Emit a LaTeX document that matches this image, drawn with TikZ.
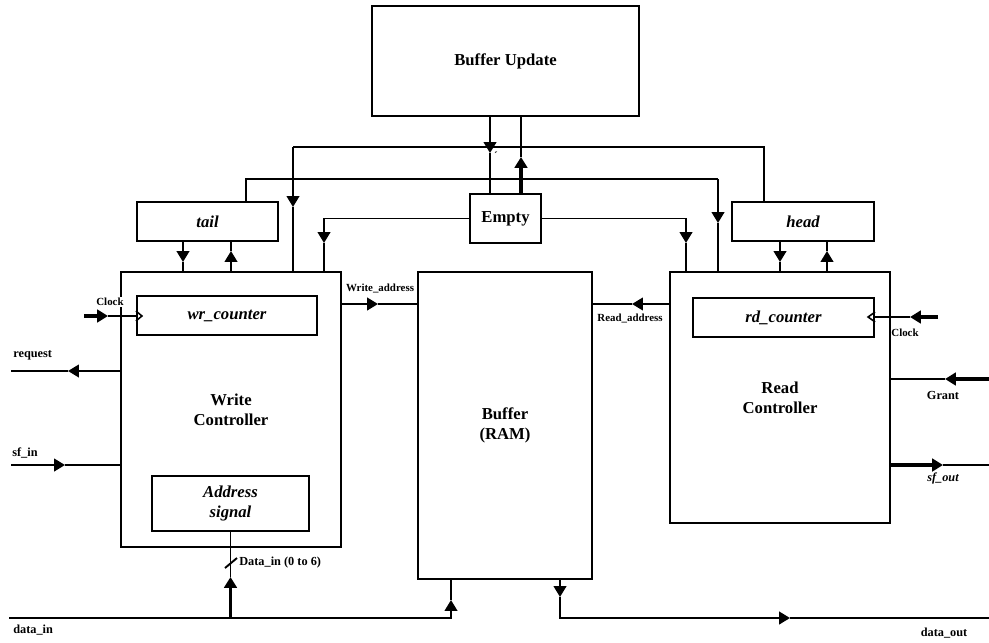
\documentclass[tikz,border=0pt]{standalone}
\usepackage{fontspec}
\setmainfont{Liberation Serif}
\usetikzlibrary{arrows.meta}
\newcommand\mainlbl{\fontsize{9.5}{11.5}\selectfont\bfseries}
\newcommand\smalllbl{\fontsize{6.2}{7}\selectfont\bfseries}
\newcommand\midlbl{\fontsize{7}{8}\selectfont\bfseries}
\begin{document}
\begin{tikzpicture}[x=0.02cm,y=-0.02cm,
  box/.style 2 args={draw, line width=1.2pt, inner sep=0pt,
    minimum width=#1*0.02cm, minimum height=#2*0.02cm,
    align=center, font=\mainlbl},
  ital/.style={font=\mainlbl\itshape},
  wire/.style={line width=1.1pt},
  heavy/.style={line width=1.8pt},
  headed/.style={-{Triangle[length=6.2pt,width=7.2pt]}},
  small/.style={font=\smalllbl, inner sep=0pt},
  mid/.style={font=\midlbl, inner sep=0pt}]
\useasboundingbox (0,0) rectangle (989,642);

% blocks
\node[box={267}{110}] (BU) at (505.5,61) {Buffer Update};
\node[box={71}{49}] (Empty) at (505.5,218.5) {Empty};
\node[box={141}{39}, ital] (tail) at (207.5,221.5) {tail};
\node[box={142}{39}, ital] (head) at (803,221.5) {head};
\node[box={220}{275}] (WC) at (231,409.5) {Write\\Controller};
\node[box={180}{39}, ital] (wr) at (227,315.5) {wr\_counter};
\node[box={157}{55}, ital] (addr) at (230.5,503.5) {Address\\signal};
\node[box={174}{307}] (buf) at (505,425.5) {Buffer\\(RAM)};
\node[box={220}{251}] (RC) at (780,397.5) {Read\\Controller};
\node[box={181}{39}, ital] (rd) at (783.5,317.5) {rd\_counter};

% upper bus: head -> write controller
\coordinate (ub) at (293,147);
\coordinate (ubtip) at (293,207);
\draw[wire] (head.north -| 764,0) |- (ub);
\draw[wire, headed] (ub) -- (ubtip);
\draw[wire] (ubtip) -- (WC.north -| ubtip);

% lower bus: tail -> read controller
\coordinate (lb) at (718,179);
\coordinate (lbtip) at (718,223);
\draw[wire] (tail.north -| 246,0) |- (lb);
\draw[wire, headed] (lb) -- (lbtip);
\draw[wire] (lbtip) -- (RC.north -| lbtip);

% Buffer Update <-> Empty
\coordinate (butip) at (490,153);
\draw[wire, headed] (BU.south -| butip) -- (butip);
\draw[wire] (butip) -- (Empty.north -| butip);
\coordinate (eutip) at (521,157);
\draw[heavy, headed] (Empty.north -| eutip) -- (eutip);
\draw[wire] (eutip) -- (BU.south -| eutip);
\node[small] (tick) at (496,156) {´};

% Empty -> controllers
\coordinate (ewtip) at (324,243);
\draw[wire, headed] (Empty.west) -| (ewtip);
\draw[wire] (ewtip) -- (WC.north -| ewtip);
\coordinate (ertip) at (686,243);
\draw[wire, headed] (Empty.east) -| (ertip);
\draw[wire] (ertip) -- (RC.north -| ertip);

% tail <-> write controller
\coordinate (tdtip) at (183,262);
\draw[wire, headed] (tail.south -| tdtip) -- (tdtip);
\draw[wire] (tdtip) -- (WC.north -| tdtip);
\coordinate (tutip) at (231,251);
\draw[wire, headed] (WC.north -| tutip) -- (tutip);
\draw[wire] (tutip) -- (tail.south -| tutip);

% head <-> read controller
\coordinate (hdtip) at (780,262);
\draw[wire, headed] (head.south -| hdtip) -- (hdtip);
\draw[wire] (hdtip) -- (RC.north -| hdtip);
\coordinate (hutip) at (827,251);
\draw[wire, headed] (RC.north -| hutip) -- (hutip);
\draw[wire] (hutip) -- (head.south -| hutip);

% clocks
\coordinate (clkL) at (84,316);
\coordinate (clkLtip) at (108,316);
\draw[heavy, headed] (clkL) -- (clkLtip);
\draw[wire] (clkLtip) -- (wr.west |- clkL);
\draw[line width=0.9pt] (wr.west |- clkL) ++(0,-5) -- ++(6,5) -- ++(-6,5);
\node[small, fill=white, inner sep=0.6pt] (clkLlbl) at (110,302) {Clock};

\coordinate (clkR) at (938,317);
\coordinate (clkRtip) at (910,317);
\draw[heavy, headed] (clkR) -- (clkRtip);
\draw[wire] (clkRtip) -- (rd.east |- clkR);
\draw[line width=0.9pt] (rd.east |- clkR) ++(0,-5) -- ++(-7,5) -- ++(7,5);
\node[small] (clkRlbl) at (905,333) {Clock};

% addresses
\coordinate (watip) at (378,304);
\draw[wire, headed] (WC.east |- watip) -- (watip);
\draw[wire] (watip) -- (buf.west |- watip);
\node[small] (walbl) at (380,288) {Write\_address};
\coordinate (ratip) at (632,304);
\draw[wire, headed] (RC.west |- ratip) -- (ratip);
\draw[wire] (ratip) -- (buf.east |- ratip);
\node[small] (ralbl) at (630,318) {Read\_address};

% handshake signals
\coordinate (reqEnd) at (11,371);
\coordinate (reqtip) at (68,371);
\draw[wire, headed] (WC.west |- reqtip) -- (reqtip);
\draw[wire] (reqtip) -- (reqEnd);
\node[mid, anchor=west] (reqlbl) at (13,355) {request};

\coordinate (sfinStart) at (11,465);
\coordinate (sfintip) at (65,465);
\draw[wire, headed] (sfinStart) -- (sfintip);
\draw[wire] (sfintip) -- (WC.west |- sfintip);
\node[mid, anchor=west] (sfinlbl) at (12,453) {sf\_in};

\coordinate (grStart) at (989,379);
\coordinate (grtip) at (945,379);
\draw[heavy, headed] (grStart) -- (grtip);
\draw[wire] (grtip) -- (RC.east |- grtip);
\node[mid] (grlbl) at (943,395) {Grant};

\coordinate (sfoEnd) at (989,465);
\coordinate (sfotip) at (943,465);
\draw[heavy, headed] (RC.east |- sfotip) -- (sfotip);
\draw[wire] (sfotip) -- (sfoEnd);
\node[mid, font=\midlbl\itshape] (sfolbl) at (943,478) {sf\_out};

% data paths
\coordinate (dinStart) at (9,618);
\coordinate (dintip) at (451,600);
\draw[wire, headed] (dinStart) -| (dintip);
\draw[wire] (dintip) -- (buf.south -| dintip);
\node[mid, anchor=west] (dinlbl) at (13,630) {data\_in};

\coordinate (dibus) at (230.5,618);
\coordinate (ditip) at (230.5,577);
\draw[heavy, headed] (dibus) -- (ditip);
\draw[wire] (ditip) -- (addr.south);
\draw[wire] (225,568) -- (237,558);
\node[mid, anchor=west] (dilbl) at (239,563) {Data\_in (0 to 6)};

\coordinate (dotip1) at (560,597);
\coordinate (dotip2) at (790,618);
\coordinate (doutEnd) at (989,618);
\draw[wire, headed] (buf.south -| dotip1) -- (dotip1);
\draw[wire, headed] (dotip1) |- (dotip2);
\draw[wire] (dotip2) -- (doutEnd);
\node[mid] (doutlbl) at (944,633) {data\_out};
\end{tikzpicture}
\end{document}
